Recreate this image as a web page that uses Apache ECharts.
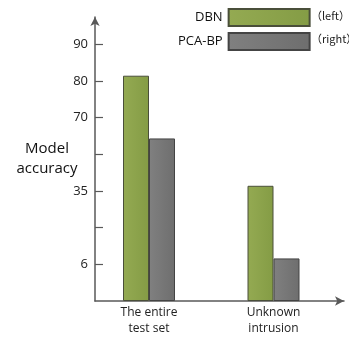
<!DOCTYPE html>
<html>
<head>
<meta charset="utf-8">
<script src="https://cdn.jsdelivr.net/npm/echarts@6/dist/echarts.min.js"></script>
<style>
  html, body { margin: 0; padding: 0; background: #fff; }
  #main { width: 349px; height: 337px; }
</style>
</head>
<body>
<div id="main"></div>
<script>
// categories and values (in axis-tick units)
var categories = ['The entire\ntest set', 'Unknown\nintrusion']
var dbnValues = [6.14, 3.14]
var pcaValues = [4.43, 1.16]
// tick labels, one per tick step starting at 1
var tickLabels = ['6', '', '35', '', '70', '80', '90']
var tickPositions = [1, 2, 3, 4, 5, 6, 7]

var chart = echarts.init(document.getElementById('main'))

var option = {
  animation: false,
  textStyle: { fontFamily: 'Open Sans' },
  legend: {
    data: ['DBN', 'PCA-BP'],
    orient: 'vertical',
    align: 'right',
    left: 178,
    top: 8,
    padding: 0,
    itemWidth: 81,
    itemHeight: 17,
    itemGap: 5,
    icon: 'rect',
    selectedMode: false,
    textStyle: { fontSize: 13, color: '#111', padding: [6, 1, 0, 0] }
  },
  graphic: [
    { type: 'text', left: 311, top: 10, style: { text: '（left）', fontSize: 11, fill: '#222', fontFamily: 'Noto Sans CJK SC' } },
    { type: 'text', left: 311, top: 33, style: { text: '（right）', fontSize: 11, fill: '#222', fontFamily: 'Noto Sans CJK SC' } }
  ],
  grid: {
    left: 95,
    width: 249,
    top: 17,
    bottom: 36
  },
  xAxis: {
    type: 'category',
    data: categories,
    axisLine: {
      lineStyle: { color: '#595959', width: 1.5 },
      symbol: ['none', 'arrow'],
      symbolSize: [7, 9]
    },
    axisTick: { show: false },
    axisLabel: {
      color: '#222',
      fontSize: 12,
      lineHeight: 16,
      margin: 4,
      padding: [0, 16.5, 0, 0]
    }
  },
  yAxis: {
    type: 'value',
    min: 0,
    max: 7.74,
    name: 'Model\naccuracy',
    nameLocation: 'middle',
    nameRotate: 0,
    nameGap: 48,
    nameMoveOverlap: false,
    nameTextStyle: { fontSize: 15, color: '#111', align: 'center', lineHeight: 20, padding: [0, 0, 24, 0] },
    axisLine: {
      show: true,
      lineStyle: { color: '#595959', width: 1.5 },
      symbol: ['none', 'arrow'],
      symbolSize: [7, 9]
    },
    axisTick: {
      show: true,
      inside: true,
      length: 8,
      lineStyle: { color: '#595959', width: 1.2 },
      customValues: tickPositions
    },
    axisLabel: {
      color: '#222',
      fontSize: 13,
      margin: 7,
      customValues: tickPositions,
      formatter: function (v) {
        return tickLabels[Math.round(v) - 1] || ''
      }
    },
    splitLine: { show: false }
  },
  series: [
    {
      name: 'DBN',
      type: 'bar',
      barWidth: 26,
      barGap: 0,
      data: dbnValues,
      itemStyle: {
        color: new echarts.graphic.LinearGradient(0, 0, 1, 0, [
          { offset: 0, color: '#94aa52' },
          { offset: 1, color: '#849c45' }
        ]),
        borderColor: '#4a4f3a',
        borderWidth: 1
      }
    },
    {
      name: 'PCA-BP',
      type: 'bar',
      barWidth: 26,
      barGap: 0,
      data: pcaValues,
      itemStyle: {
        color: new echarts.graphic.LinearGradient(0, 0, 1, 0, [
          { offset: 0, color: '#808080' },
          { offset: 1, color: '#6e6e6e' }
        ]),
        borderColor: '#444',
        borderWidth: 1
      }
    },
    {
      // empty slot so each pair sits left of its band centre
      name: 'gap',
      type: 'bar',
      barWidth: 16.5,
      barGap: 0,
      data: ['-', '-']
    }
  ]
}

chart.setOption(option)
</script>
</body>
</html>
